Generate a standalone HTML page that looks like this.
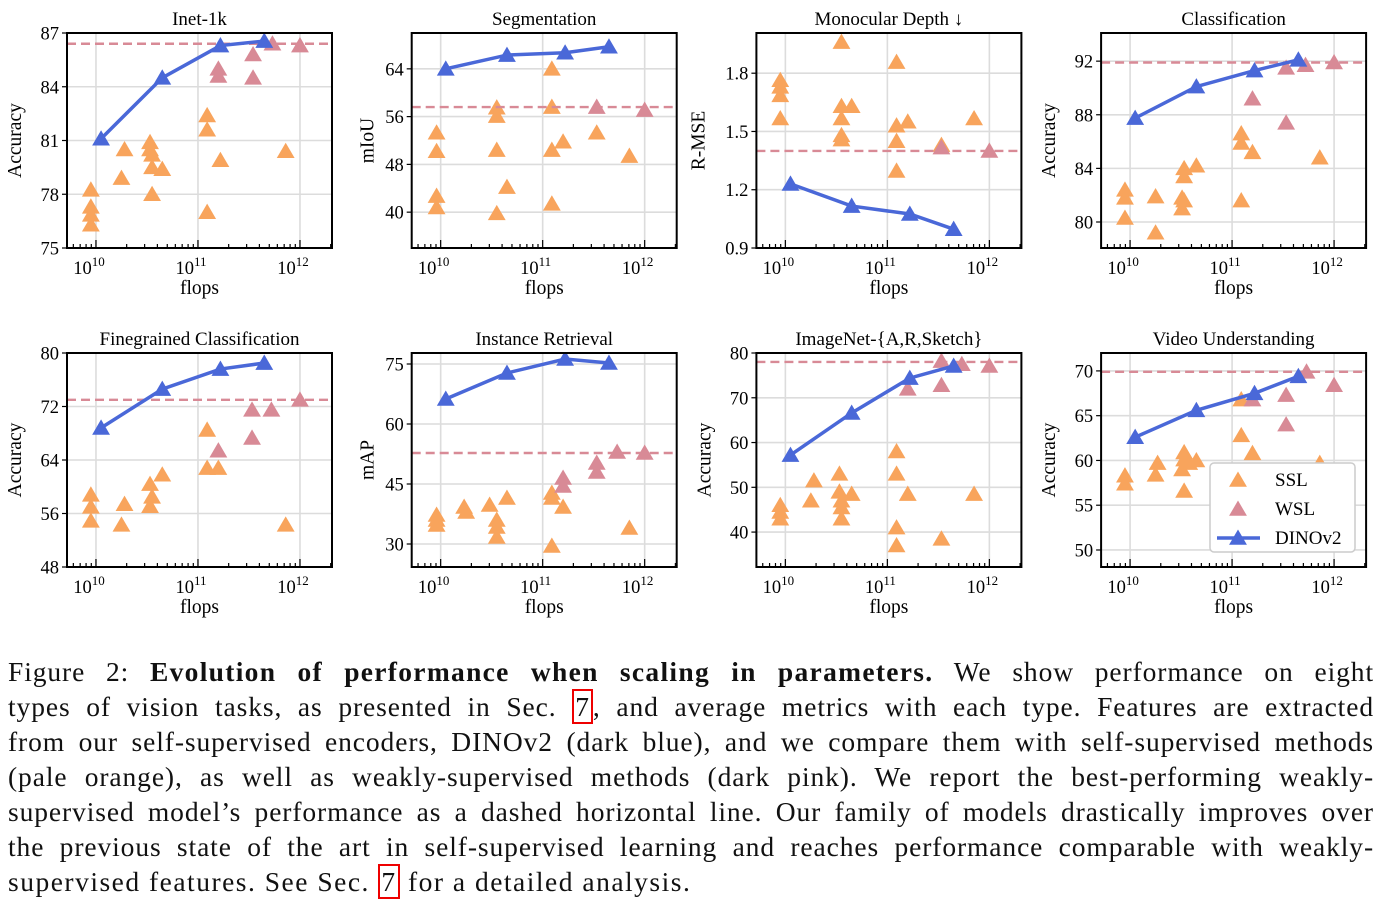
<!DOCTYPE html>
<html><head><meta charset="utf-8">
<style>
body{margin:0;background:#fff;width:1392px;height:904px;overflow:hidden;position:relative;font-family:"Liberation Serif",serif;}
#fig{position:absolute;left:0;top:0;}
#caption{position:absolute;left:8px;top:654px;width:1366px;font-size:27.5px;line-height:35px;color:#111;letter-spacing:0.9px;}
#caption .ln{text-align:justify;text-align-last:justify;word-spacing:0;height:35px;overflow:visible;}
#caption .ln.last{text-align-last:left;letter-spacing:1.5px;}
#caption b{letter-spacing:1.3px;}
.ref{border:2px solid #e00;padding:0 1px;color:#111;}
</style></head><body>
<svg id="fig" width="1392" height="640" xmlns="http://www.w3.org/2000/svg"></svg>
<div id="caption">
<div class="ln">Figure 2: <b>Evolution of performance when scaling in parameters.</b> We show performance on eight</div>
<div class="ln">types of vision tasks, as presented in Sec. <span class="ref">7</span>, and average metrics with each type. Features are extracted</div>
<div class="ln">from our self-supervised encoders, DINOv2 (dark blue), and we compare them with self-supervised methods</div>
<div class="ln">(pale orange), as well as weakly-supervised methods (dark pink). We report the best-performing weakly-</div>
<div class="ln">supervised model’s performance as a dashed horizontal line. Our family of models drastically improves over</div>
<div class="ln">the previous state of the art in self-supervised learning and reaches performance comparable with weakly-</div>
<div class="ln last">supervised features. See Sec. <span class="ref">7</span> for a detailed analysis.</div>
</div>
<script>
// x values are log10(flops)
const dinoX = [10.05, 10.65, 11.22, 11.65];
// Panel 1: Inet-1k
const p1DinoY = [81.1, 84.5, 86.3, 86.55];
const p1WslX = [11.2, 11.2, 11.54, 11.54, 11.73, 12.0];
const p1WslY = [85.0, 84.6, 85.8, 84.5, 86.4, 86.3];
const p1SslX = [9.95, 9.95, 9.95, 9.95, 10.28, 10.25, 10.53, 10.53, 10.55, 10.55, 10.65, 10.55, 11.09, 11.09, 11.09, 11.22, 11.86];
const p1SslY = [78.25, 77.3, 76.85, 76.3, 80.5, 78.9, 80.9, 80.5, 80.2, 79.5, 79.4, 78.0, 82.4, 81.6, 77.0, 79.9, 80.4];
const p1Best = 86.4;
// Panel 2: Segmentation
const p2DinoY = [64, 66.3, 66.7, 67.7];
const p2WslX = [11.53, 12.0];
const p2WslY = [57.6, 57.1];
const p2SslX = [9.96, 9.96, 9.96, 9.96, 10.55, 10.55, 10.55, 10.65, 10.55, 11.09, 11.09, 11.09, 11.2, 11.09, 11.53, 11.85];
const p2SslY = [53.3, 50.2, 42.7, 40.8, 57.5, 56.1, 50.4, 44.2, 39.8, 64, 57.6, 50.4, 51.8, 41.4, 53.3, 49.4];
const p2Best = 57.6;
// Panel 3: Monocular depth
const p3DinoY = [1.23, 1.116, 1.075, 0.997];
const p3WslX = [11.53, 12.0];
const p3WslY = [1.417, 1.40];
const p3SslX = [9.95, 9.95, 9.95, 9.95, 10.55, 10.55, 10.55, 10.55, 10.55, 10.65, 11.09, 11.09, 11.09, 11.09, 11.2, 11.53, 11.85];
const p3SslY = [1.764, 1.73, 1.686, 1.567, 1.96, 1.63, 1.567, 1.48, 1.458, 1.63, 1.857, 1.53, 1.45, 1.297, 1.55, 1.43, 1.567];
const p3Best = 1.40;
// Panel 4: Classification
const p4DinoY = [87.75, 90.1, 91.3, 92.1];
const p4WslX = [11.2, 11.53, 11.53, 11.72, 12.0];
const p4WslY = [89.2, 87.4, 91.5, 91.7, 91.9];
const p4SslX = [9.95, 9.95, 9.95, 10.25, 10.25, 10.53, 10.53, 10.51, 10.53, 10.51, 10.65, 11.09, 11.09, 11.2, 11.09, 11.86];
const p4SslY = [82.4, 81.8, 80.3, 81.9, 79.2, 84.0, 83.4, 81.8, 81.6, 81.0, 84.2, 86.6, 85.9, 85.2, 81.6, 84.8];
const p4Best = 91.9;
// Panel 5: Finegrained classification
const p5DinoY = [68.8, 74.6, 77.6, 78.5];
const p5WslX = [11.2, 11.53, 11.53, 11.72, 12.0];
const p5WslY = [65.4, 67.3, 71.5, 71.5, 73.0];
const p5SslX = [9.95, 9.95, 9.95, 10.28, 10.25, 10.53, 10.55, 10.53, 10.65, 11.09, 11.09, 11.2, 11.86];
const p5SslY = [58.8, 57.0, 54.9, 57.4, 54.3, 60.4, 58.5, 57.1, 61.8, 68.5, 62.8, 62.8, 54.3];
const p5Best = 73.0;
// Panel 6: Instance retrieval
const p6DinoY = [66.25, 72.75, 76.25, 75.25];
const p6WslX = [11.2, 11.2, 11.53, 11.53, 11.73, 12.0];
const p6WslY = [46.5, 44.5, 50.25, 48, 53, 52.75];
const p6SslX = [9.96, 9.96, 9.96, 10.25, 10.23, 10.48, 10.55, 10.55, 10.55, 10.65, 11.09, 11.09, 11.09, 11.2, 11.85];
const p6SslY = [37.25, 36, 34.75, 38, 39.25, 39.75, 36, 34.25, 31.75, 41.5, 42.75, 41.5, 29.5, 39.25, 34];
const p6Best = 52.75;
// Panel 7: ImageNet-{A,R,Sketch}
const p7DinoY = [57.2, 66.6, 74.4, 77.1];
const p7WslX = [11.2, 11.53, 11.53, 11.73, 12.0];
const p7WslY = [72.0, 72.8, 78.2, 77.5, 77.1];
const p7SslX = [9.95, 9.95, 9.95, 10.28, 10.25, 10.53, 10.53, 10.55, 10.55, 10.55, 10.65, 11.09, 11.09, 11.09, 11.09, 11.2, 11.53, 11.85];
const p7SslY = [46, 44.5, 43, 51.5, 47, 53, 49, 47, 45.5, 43, 48.5, 58, 53, 41, 37, 48.5, 38.5, 48.5];
const p7Best = 78.0;
// Panel 8: Video understanding
const p8DinoY = [62.6, 65.6, 67.5, 69.4];
const p8WslX = [11.2, 11.53, 11.53, 11.73, 12.0];
const p8WslY = [66.8, 67.3, 64.0, 69.9, 68.4];
const p8SslX = [9.95, 9.95, 10.25, 10.27, 10.51, 10.53, 10.53, 10.58, 10.65, 10.53, 11.09, 11.09, 11.2, 11.86];
const p8SslY = [58.3, 57.4, 58.4, 59.7, 59.0, 60.1, 60.9, 59.7, 60.0, 56.6, 66.8, 62.8, 60.8, 59.7];
const p8Best = 69.9;

const titles = ["Inet-1k","Segmentation","Monocular Depth \u2193","Classification","Finegrained Classification","Instance Retrieval","ImageNet-{A,R,Sketch}","Video Understanding"];
const yLabels = ["Accuracy","mIoU","R-MSE","Accuracy","Accuracy","mAP","Accuracy","Accuracy"];
const yTicks = [[75,78,81,84,87],[40,48,56,64],[0.9,1.2,1.5,1.8],[80,84,88,92],[48,56,64,72,80],[30,45,60,75],[40,50,60,70,80],[50,55,60,65,70]];
const yDomains = [[75,87],[34,70],[0.9,2.007],[78.06,94.1],[48,80],[24.25,77.75],[32.2,80],[48.1,72]];
const panels = [
 [p1DinoY,p1WslX,p1WslY,p1SslX,p1SslY,p1Best],
 [p2DinoY,p2WslX,p2WslY,p2SslX,p2SslY,p2Best],
 [p3DinoY,p3WslX,p3WslY,p3SslX,p3SslY,p3Best],
 [p4DinoY,p4WslX,p4WslY,p4SslX,p4SslY,p4Best],
 [p5DinoY,p5WslX,p5WslY,p5SslX,p5SslY,p5Best],
 [p6DinoY,p6WslX,p6WslY,p6SslX,p6SslY,p6Best],
 [p7DinoY,p7WslX,p7WslY,p7SslX,p7SslY,p7Best],
 [p8DinoY,p8WslX,p8WslY,p8SslX,p8SslY,p8Best]
];
const NS="http://www.w3.org/2000/svg";
const svg=document.getElementById('fig');
const ORANGE="#f8a45c", PINK="#d88a96", BLUE="#4a68d8";
function el(tag,attrs,parent){const e=document.createElementNS(NS,tag);for(const k in attrs)e.setAttribute(k,attrs[k]);(parent||svg).appendChild(e);return e;}
function tri(g,x,y,c){const s=8.5;const e=el('polygon',{points:`${x},${y-s} ${x-s*1.05},${y+s*0.8} ${x+s*1.05},${y+s*0.8}`,fill:c},g);return e;}
const W=265, XMIN=9.716, XMAX=12.314;
panels.forEach((p,i)=>{
  const col=i%4,row=Math.floor(i/4);
  const L=67+344.7*col, T=row?353:33, H=row?214:215;
  const [yd0,yd1]=yDomains[i];
  const sx=v=>L+(v-XMIN)/(XMAX-XMIN)*W;
  const sy=v=>T+H-(v-yd0)/(yd1-yd0)*H;
  const g=el('g',{});
  
  
  const clip=el('clipPath',{id:'c'+i},g);el('rect',{x:L,y:T,width:W,height:H},clip);
  [10,11,12].forEach(d=>{const ln=el('line',{x1:sx(d),x2:sx(d),y1:T,y2:T+H,stroke:'#dcdcdc','stroke-width':1.6},g);});
  yTicks[i].forEach(t=>{const y=sy(t);const ln=el('line',{x1:L,x2:L+W,y1:y,y2:y,stroke:'#dcdcdc','stroke-width':1.6},g);
    el('line',{x1:L-5,x2:L,y1:y,y2:y,stroke:'#000','stroke-width':1.2},g);
    const tx=el('text',{x:L-8,y:y+6.5,'font-size':18.5,'text-anchor':'end','font-family':'Liberation Serif, serif'},g);tx.textContent=String(t);
    });
  for(let d=9;d<=12;d++){for(let m=1;m<10;m++){const v=d+Math.log10(m);if(v<XMIN||v>XMAX)continue;const x=sx(v);el('line',{x1:x,x2:x,y1:T+H,y2:T+H-(m==1?8:4),stroke:'#000','stroke-width':1.2},g);}}
  [10,11,12].forEach(d=>{const tx=el('text',{x:sx(d)-7,y:T+H+26,'font-size':18.5,'text-anchor':'middle','font-family':'Liberation Serif, serif'},g);
    tx.textContent='10';const ts=el('tspan',{'font-size':13,dy:-8},tx);ts.textContent=String(d);
    });
  const xl=el('text',{x:L+W/2,y:T+H+46,'font-size':19.5,'text-anchor':'middle','font-family':'Liberation Serif, serif'},g);xl.textContent='flops';
  
  const yl=el('text',{x:0,y:0,'font-size':19.5,'text-anchor':'middle','font-family':'Liberation Serif, serif',transform:`translate(${L-(i==2?52:i==1||i==5?38:46)},${T+H/2}) rotate(-90)`},g);yl.textContent=yLabels[i];
  
  const tt=el('text',{x:L+W/2,y:T-8,'font-size':19,'text-anchor':'middle','font-family':'Liberation Serif, serif'},g);tt.textContent=titles[i];
  
  const pg=el('g',{'clip-path':`url(#c${i})`},g);
  const [dY,wX,wY,sX,sY,best]=p;
  sX.forEach((x,j)=>{const t=tri(pg,sx(x),sy(sY[j]),ORANGE);});
  wX.forEach((x,j)=>{const t=tri(pg,sx(x),sy(wY[j]),PINK);});
  const bl=el('line',{x1:L,x2:L+W,y1:sy(best),y2:sy(best),stroke:PINK,'stroke-width':2.4,'stroke-dasharray':'9,5'},pg);
  
  const pl=el('polyline',{points:dinoX.map((x,j)=>sx(x)+','+sy(dY[j])).join(' '),fill:'none',stroke:BLUE,'stroke-width':3.5},pg);
  
  dinoX.forEach((x,j)=>{const t=tri(pg,sx(x),sy(dY[j]),BLUE);});
  const fr=el('rect',{x:L,y:T,width:W,height:H,fill:'none',stroke:'#000','stroke-width':2},g);
  
  if(i==7){
    const lg=el('g',{},g);
    el('rect',{x:1210,y:463,width:145,height:89,rx:4,fill:'#fff',stroke:'#ccc','stroke-width':1.5},lg);
    const items=[['SSL',ORANGE,false],['WSL',PINK,false],['DINOv2',BLUE,true]];
    items.forEach((it,k)=>{const y=480+k*29;
      if(it[2])el('line',{x1:1217,x2:1260,y1:y,y2:y,stroke:BLUE,'stroke-width':3.5},lg);
      tri(lg,1238,y,it[1]);
      const t=el('text',{x:1275,y:y+6,'font-size':19,'font-family':'Liberation Serif, serif'},lg);t.textContent=it[0];
      });
  }
});
</script>
</body></html>
